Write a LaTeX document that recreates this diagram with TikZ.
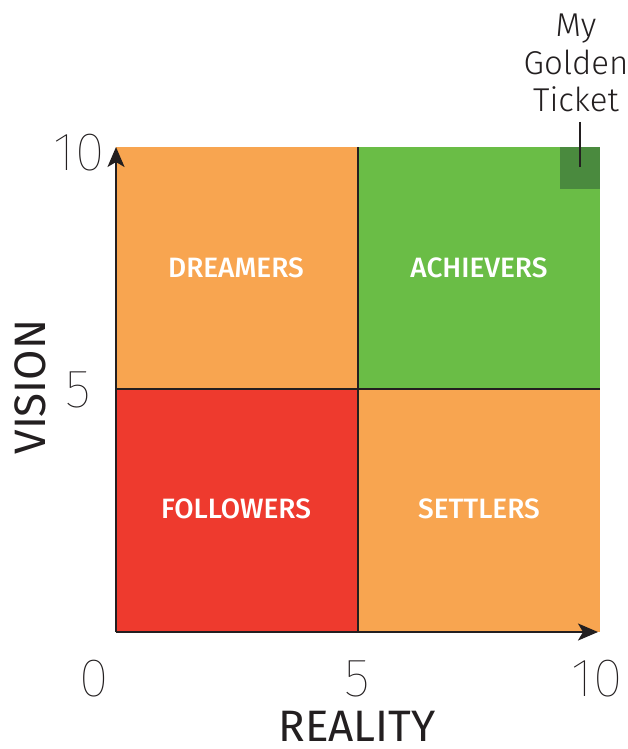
\documentclass[tikz,border=0pt]{standalone}
\usepackage{fontspec}
\setmainfont{Fira Sans}
\newfontfamily\lightfont{Fira Sans Light}
\newfontfamily\xlightfont{Fira Sans Thin}
\newfontfamily\medfont{Fira Sans Medium}
\usetikzlibrary{arrows.meta}
\definecolor{qorange}{HTML}{F8A550}
\definecolor{qgreen}{HTML}{6ABD46}
\definecolor{qred}{HTML}{EE3A2E}
\definecolor{qdark}{HTML}{4A8A3E}
\definecolor{ink}{HTML}{231F20}
\begin{document}
\begin{tikzpicture}[x=1pt,y=-1pt,
  qlabel/.style={text=white,font=\medfont\fontsize{28}{32}\selectfont},
  tick/.style={text=ink,font=\xlightfont\fontsize{54}{60}\selectfont,inner sep=0pt},
  axlabel/.style={text=ink,font=\fontsize{44}{50}\selectfont,inner sep=0pt},
  axisline/.style={draw=ink,line width=2.2pt,-{Stealth[length=20pt,width=17pt,inset=5pt]}},
  divline/.style={draw=ink,line width=2.2pt}]
\useasboundingbox (0,0) rectangle (628,749);
\fill[qorange] (116,147) rectangle (358,389);
\fill[qgreen] (358,147) rectangle (600,389);
\fill[qred] (116,389) rectangle (358,632);
\fill[qorange] (358,389) rectangle (600,632);
\fill[qdark] (560,147) rectangle (600,189);
\node[qlabel] (dreamers) at (236,268) {DREAMERS};
\node[qlabel] (achievers) at (479,268) {ACHIEVERS};
\node[qlabel] (followers) at (236,509) {FOLLOWERS};
\node[qlabel] (settlers) at (479,509) {SETTLERS};
\coordinate (origin) at (116,632);
\coordinate (ytop) at (116,147);
\coordinate (xend) at (598,632);
\coordinate (vtop) at (358,147);
\coordinate (vbot) at (358,632);
\coordinate (hl) at (116,389);
\coordinate (hr) at (600,389);
\draw[divline] (vtop) -- (vbot);
\draw[divline] (hl) -- (hr);
\draw[axisline] (origin) -- (ytop);
\draw[axisline] (origin) -- (xend);
\node[tick] (y10) at (79,153) {10};
\node[tick] (y5) at (78,390) {5};
\node[tick] (x0) at (94,679) {0};
\node[tick] (x5) at (357,679) {5};
\node[tick] (x10) at (597,679) {10};
\node[axlabel,rotate=90] (vision) at (30,387) {VISION};
\node[axlabel] (reality) at (357,726) {REALITY};
\node[text=ink,font=\lightfont\fontsize{33}{37.5}\selectfont,align=center,inner sep=0pt] (ticket) at (576,63) {My\\Golden\\Ticket};
\coordinate (ptrtop) at (580,122);
\coordinate (ptrbot) at (580,167);
\draw[ink,line width=1.6pt] (ptrtop) -- (ptrbot);
\end{tikzpicture}
\end{document}
